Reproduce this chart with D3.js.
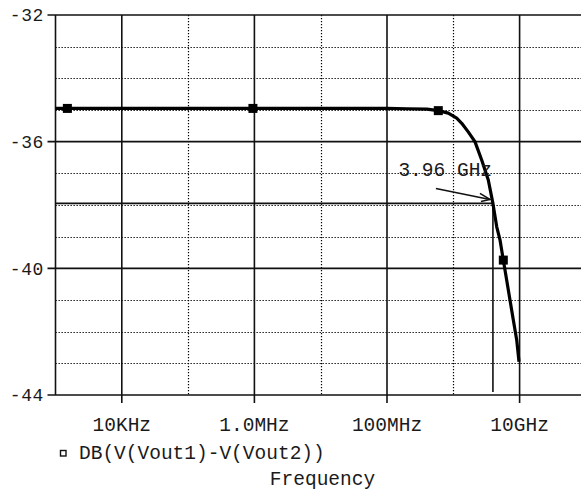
<!DOCTYPE html>
<html>
<head>
<meta charset="utf-8">
<script src="https://cdn.jsdelivr.net/npm/d3@7"></script>
<style>
  html, body { margin: 0; padding: 0; background: #fff; }
  svg { display: block; }
  text { font-family: "Liberation Mono", "DejaVu Sans Mono", monospace; fill: #1a1a1a; }
</style>
</head>
<body>
<svg id="chart" width="581" height="495"></svg>
<script>
// ---- data ----
const freqHz = [1e3, 1.51e3, 1e4, 1e5, 9.5e5, 1e7, 1e8, 2e8, 4.01e8, 5.94e8, 8.41e8,
  1.125e9, 1.34e9, 1.68e9, 2.12e9, 2.68e9, 3.37e9, 3.96e9, 4.52e9, 5.06e9, 5.68e9,
  6.38e9, 7.16e9, 8.04e9, 9.04e9, 9.8e9];
const gainDb = [-34.95, -34.95, -34.95, -34.95, -34.95, -34.95, -34.95, -34.96, -34.97, -35.02, -35.1,
  -35.26, -35.42, -35.69, -36.0, -36.58, -37.21, -37.95, -38.69, -39.1, -39.74,
  -40.37, -41.0, -41.63, -42.26, -42.95];
const markerHz = [1.51e3, 9.5e5, 5.94e8, 5.68e9];
const markerDb = [-34.95, -34.95, -35.02, -39.74];
const xMajorTicks = [1e4, 1e6, 1e8, 1e10];
const xTickLabels = ["10KHz", "1.0MHz", "100MHz", "10GHz"];
const xMinorTicks = [1e5, 1e7, 1e9];
const yMajorTicks = [-44, -40, -36, -32];
const yTickLabels = ["-44", "-40", "-36", "-32"];
const yMinorTicks = [-43, -42, -41, -39, -38, -37, -35, -34, -33];
const cursorHz = 3.96e9;
const cursorDb = -37.95;
const cursorLabel = "3.96 GHz";
const seriesName = "DB(V(Vout1)-V(Vout2))";
const xTitle = "Frequency";

// ---- layout ----
const plotL = 55.5, plotT = 15, plotB = 395;
const x = d3.scaleLog().domain([1e3, 1e11]).range([plotL, plotL + 8 * 66.3]);
const y = d3.scaleLinear().domain([-44, -32]).range([plotB, plotT]);
const W = 581;

const svg = d3.select("#chart");

// minor dotted grid
svg.append("g").selectAll("line").data(yMinorTicks).join("line")
  .attr("x1", plotL).attr("x2", W).attr("y1", d => Math.round(y(d)) + 0.5).attr("y2", d => Math.round(y(d)) + 0.5)
  .attr("stroke", "#000").attr("stroke-width", 1.2).attr("stroke-dasharray", "1.3,1.7");
svg.append("g").selectAll("line").data(xMinorTicks).join("line")
  .attr("x1", d => Math.round(x(d)) + 0.5).attr("x2", d => Math.round(x(d)) + 0.5).attr("y1", plotT).attr("y2", plotB)
  .attr("stroke", "#000").attr("stroke-width", 1.2).attr("stroke-dasharray", "1.3,1.7");

// major solid grid
svg.append("g").selectAll("line").data(yMajorTicks).join("line")
  .attr("x1", plotL - 8).attr("x2", W).attr("y1", d => y(d)).attr("y2", d => y(d))
  .attr("stroke", "#111").attr("stroke-width", 1.6);
svg.append("g").selectAll("line").data(xMajorTicks).join("line")
  .attr("x1", d => x(d)).attr("x2", d => x(d)).attr("y1", plotT).attr("y2", plotB + 8)
  .attr("stroke", "#111").attr("stroke-width", 1.6);
// left axis
svg.append("line").attr("x1", plotL).attr("x2", plotL).attr("y1", plotT).attr("y2", plotB)
  .attr("stroke", "#111").attr("stroke-width", 1.6);

// y tick labels
svg.append("g").selectAll("text").data(yMajorTicks).join("text")
  .attr("x", 44).attr("y", d => y(d)).attr("dy", "0.35em")
  .attr("text-anchor", "end").attr("font-size", 18).attr("letter-spacing", 0.6)
  .text((d, i) => yTickLabels[i]);

// x tick labels
svg.append("g").selectAll("text").data(xMajorTicks).join("text")
  .attr("x", d => x(d)).attr("y", 431)
  .attr("text-anchor", "middle").attr("font-size", 19.5)
  .text((d, i) => xTickLabels[i]);

// cursor lines
svg.append("line").attr("x1", plotL).attr("x2", x(cursorHz))
  .attr("y1", y(cursorDb)).attr("y2", y(cursorDb))
  .attr("stroke", "#111").attr("stroke-width", 1.6);
svg.append("line").attr("x1", x(cursorHz)).attr("x2", x(cursorHz))
  .attr("y1", y(cursorDb)).attr("y2", plotB - 3)
  .attr("stroke", "#111").attr("stroke-width", 1.6);

// curve
const line = d3.line().x((d, i) => x(freqHz[i])).y((d, i) => y(gainDb[i]));
svg.append("path").datum(gainDb).attr("d", line)
  .attr("fill", "none").attr("stroke", "#000").attr("stroke-width", 3.2)
  .attr("stroke-linejoin", "round");

// markers
svg.append("g").selectAll("rect").data(markerHz).join("rect")
  .attr("x", d => x(d) - 4.5).attr("y", (d, i) => y(markerDb[i]) - 4.5)
  .attr("width", 9).attr("height", 9).attr("fill", "#000");

// annotation
const cx = x(cursorHz), cy = y(cursorDb);
svg.append("text").attr("x", cx - 94.5).attr("y", cy - 27.5)
  .attr("font-size", 19.5).text(cursorLabel);
svg.append("line").attr("x1", cx - 57).attr("y1", cy - 15)
  .attr("x2", cx - 3).attr("y2", cy - 4)
  .attr("stroke", "#111").attr("stroke-width", 1.6);
svg.append("path")
  .attr("d", `M${cx - 13},${cy - 10} L${cx - 3},${cy - 4} L${cx - 12},${cy - 2}`)
  .attr("fill", "none").attr("stroke", "#111").attr("stroke-width", 1.6);

// legend
svg.append("rect").attr("x", 60.5).attr("y", 450.5).attr("width", 5.5).attr("height", 5.5)
  .attr("fill", "none").attr("stroke", "#111").attr("stroke-width", 1.4);
svg.append("text").attr("x", 79).attr("y", 459).attr("font-size", 19.5).text(seriesName);

// x title
svg.append("text").attr("x", 322.5).attr("y", 485).attr("text-anchor", "middle")
  .attr("font-size", 19.5).text(xTitle);
</script>
</body>
</html>
